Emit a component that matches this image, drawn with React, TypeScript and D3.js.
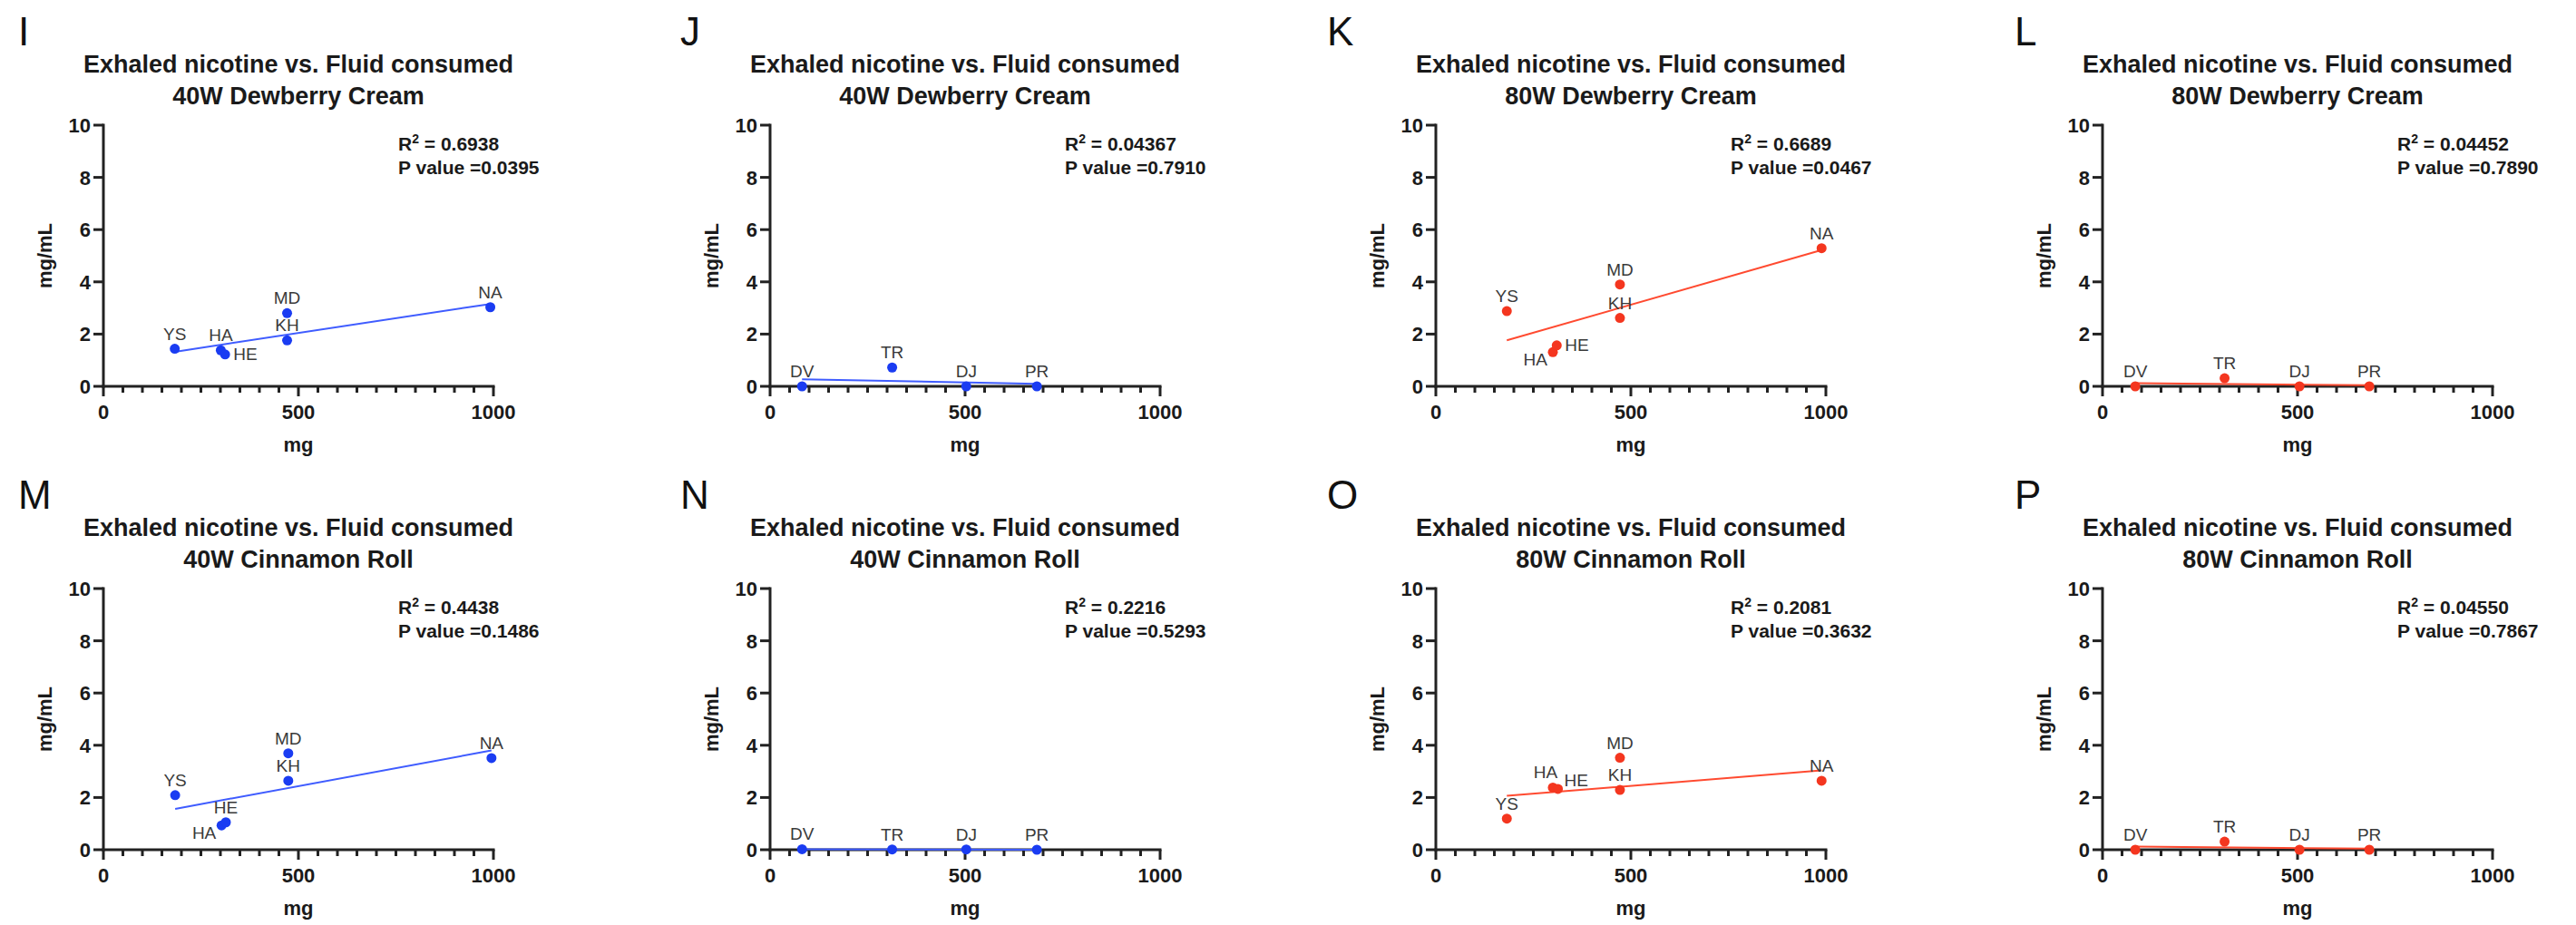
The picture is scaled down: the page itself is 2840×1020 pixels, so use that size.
import React, { useEffect } from "react";
import * as d3 from "d3";

// panel texts
const titleLine = "Exhaled nicotine vs. Fluid consumed";
const panelLetters = ["I", "J", "K", "L", "M", "N", "O", "P"];
const panelSubtitles = [
  "40W Dewberry Cream", "40W Dewberry Cream", "80W Dewberry Cream", "80W Dewberry Cream",
  "40W Cinnamon Roll", "40W Cinnamon Roll", "80W Cinnamon Roll", "80W Cinnamon Roll",
];
const rSquared = ["0.6938", "0.04367", "0.6689", "0.04452", "0.4438", "0.2216", "0.2081", "0.04550"];
const pValues = ["0.0395", "0.7910", "0.0467", "0.7890", "0.1486", "0.5293", "0.3632", "0.7867"];
const panelColors = ["blue", "blue", "red", "red", "blue", "blue", "red", "red"];

// subjects
const highSubjects = ["YS", "HA", "HE", "KH", "MD", "NA"];
const lowSubjects = ["DV", "TR", "DJ", "PR"];

// fluid consumed (mg) and exhaled nicotine (mg/mL)
const iX = [183, 301, 312, 471, 471, 992];
const iY = [1.44, 1.38, 1.22, 1.76, 2.8, 3.03];
const jX = [82, 313, 503, 684];
const jY = [0.0, 0.72, 0.0, 0.0];
const kX = [182, 300, 310, 472, 472, 989];
const kY = [2.88, 1.31, 1.57, 2.62, 3.9, 5.29];
const lX = [84, 313, 505, 684];
const lY = [0.0, 0.31, 0.0, 0.0];
const mX = [184, 303, 314, 474, 474, 995];
const mY = [2.09, 0.93, 1.05, 2.64, 3.69, 3.51];
const nX = [82, 313, 503, 684];
const nY = [0.02, 0.01, 0.01, 0.0];
const oX = [182, 300, 313, 472, 472, 989];
const oY = [1.19, 2.38, 2.33, 2.29, 3.52, 2.64];
const pX = [84, 313, 505, 684];
const pY = [0.0, 0.31, 0.0, 0.0];

// where each point label sits
const iPlace = ["t", "t", "r", "t", "t", "t"];
const kPlace = ["t", "bl", "r", "t", "t", "t"];
const mPlace = ["t", "bl", "t", "t", "t", "t"];
const oPlace = ["t", "tl", "tr", "t", "t", "t"];
const lowPlace = ["t", "t", "t", "t"];

const xMajor = [0, 500, 1000];
const xMinor = d3.range(0, 1001, 50);
const yTicks = [0, 2, 4, 6, 8, 10];

const panels = [
  { xs: iX, ys: iY, names: highSubjects, place: iPlace },
  { xs: jX, ys: jY, names: lowSubjects, place: lowPlace },
  { xs: kX, ys: kY, names: highSubjects, place: kPlace },
  { xs: lX, ys: lY, names: lowSubjects, place: lowPlace },
  { xs: mX, ys: mY, names: highSubjects, place: mPlace },
  { xs: nX, ys: nY, names: lowSubjects, place: lowPlace },
  { xs: oX, ys: oY, names: highSubjects, place: oPlace },
  { xs: pX, ys: pY, names: lowSubjects, place: lowPlace },
];

const colLeft = [114, 849, 1583, 2318];
const rowTop = [138, 649];
const letterDx = [-94, -99, -120, -97];
const W = 430;
const H = 288;
const FONT = "'Liberation Sans', Arial, Helvetica, sans-serif";

const palette = {
  blue: { dot: "#1a3cf2", line: "#3f5cff" },
  red: { dot: "#f4361f", line: "#ff4a30" },
};

const placements = {
  t: [0, -10, "middle"],
  r: [9, 6, "start"],
  bl: [-6, 15, "end"],
  tl: [-8, -10, "middle"],
  tr: [7, -3, "start"],
};

function fitLine(xs, ys) {
  const mx = d3.mean(xs);
  const my = d3.mean(ys);
  const sxy = d3.sum(xs, (v, i) => (v - mx) * (ys[i] - my));
  const sxx = d3.sum(xs, (v) => (v - mx) * (v - mx));
  const b = sxy / sxx;
  return { a: my - b * mx, b };
}

function Panel({ idx }) {
  const col = idx % 4;
  const row = Math.floor(idx / 4);
  const left = colLeft[col];
  const top = rowTop[row];
  const d = panels[idx];
  const c = palette[panelColors[idx]];

  const x = d3.scaleLinear().domain([0, 1000]).range([left, left + W]);
  const y = d3.scaleLinear().domain([0, 10]).range([top + H, top]);

  const fit = fitLine(d.xs, d.ys);
  const [lo, hi] = d3.extent(d.xs);
  const path = d3.line()([
    [x(lo), y(fit.a + fit.b * lo)],
    [x(hi), y(fit.a + fit.b * hi)],
  ]);

  return (
    <g fontFamily={FONT}>
      <text x={left + letterDx[col]} y={top - 88} fontSize={44} fill="#111">{panelLetters[idx]}</text>
      <text x={left + W / 2} y={top - 58} fontSize={27} fontWeight="bold" textAnchor="middle" fill="#1a1a1a">{titleLine}</text>
      <text x={left + W / 2} y={top - 23} fontSize={27} fontWeight="bold" textAnchor="middle" fill="#1a1a1a">{panelSubtitles[idx]}</text>

      {/* axes */}
      <g stroke="#222" strokeWidth={3} fill="none">
        <line x1={left} x2={left} y1={top - 1.5} y2={top + H + 1.5} />
        <line x1={left - 1.5} x2={left + W + 1.5} y1={top + H} y2={top + H} />
        {yTicks.map((t) => (
          <line key={"y" + t} x1={left - 11} x2={left} y1={y(t)} y2={y(t)} />
        ))}
        {xMinor.map((t) => (
          <line key={"x" + t} x1={x(t)} x2={x(t)} y1={top + H} y2={top + H + (t % 500 === 0 ? 11 : 7)} />
        ))}
      </g>
      {yTicks.map((t) => (
        <text key={"yl" + t} x={left - 14} y={y(t)} dy="0.36em" textAnchor="end" fontSize={22} fontWeight="bold" fill="#1a1a1a">{t}</text>
      ))}
      {xMajor.map((t) => (
        <text key={"xl" + t} x={x(t)} y={top + H + 36} textAnchor="middle" fontSize={22} fontWeight="bold" fill="#1a1a1a">{t}</text>
      ))}
      <text x={left + W / 2} y={top + H + 72} textAnchor="middle" fontSize={22} fontWeight="bold" fill="#1a1a1a">mg</text>
      <text transform={`translate(${left - 57},${top + H / 2}) rotate(-90)`} textAnchor="middle" fontSize={22} fontWeight="bold" fill="#1a1a1a">mg/mL</text>

      {/* stats */}
      <text x={left + 325} y={top + 28} fontSize={21} fontWeight="bold" fill="#1a1a1a">
        R<tspan dy={-8} fontSize={14}>2</tspan><tspan dy={8}>{" = " + rSquared[idx]}</tspan>
      </text>
      <text x={left + 325} y={top + 54} fontSize={21} fontWeight="bold" fill="#1a1a1a">{"P value =" + pValues[idx]}</text>

      {/* fit and points */}
      <path d={path} stroke={c.line} strokeWidth={2} fill="none" />
      {d.xs.map((v, i) => (
        <circle key={"p" + i} cx={x(v)} cy={y(d.ys[i])} r={5.5} fill={c.dot} />
      ))}
      {d.xs.map((v, i) => {
        const [dx, dy, anchor] = placements[d.place[i]];
        return (
          <text key={"n" + i} x={x(v) + dx} y={y(d.ys[i]) + dy} textAnchor={anchor} fontSize={19} fill="#3a3a3a">{d.names[i]}</text>
        );
      })}
    </g>
  );
}

export default function App() {
  useEffect(() => {
    document.body.style.margin = "0";
  }, []);
  return (
    <svg width={2840} height={1020} style={{ display: "block", background: "#fff" }}>
      {panels.map((_, i) => (
        <Panel key={i} idx={i} />
      ))}
    </svg>
  );
}
